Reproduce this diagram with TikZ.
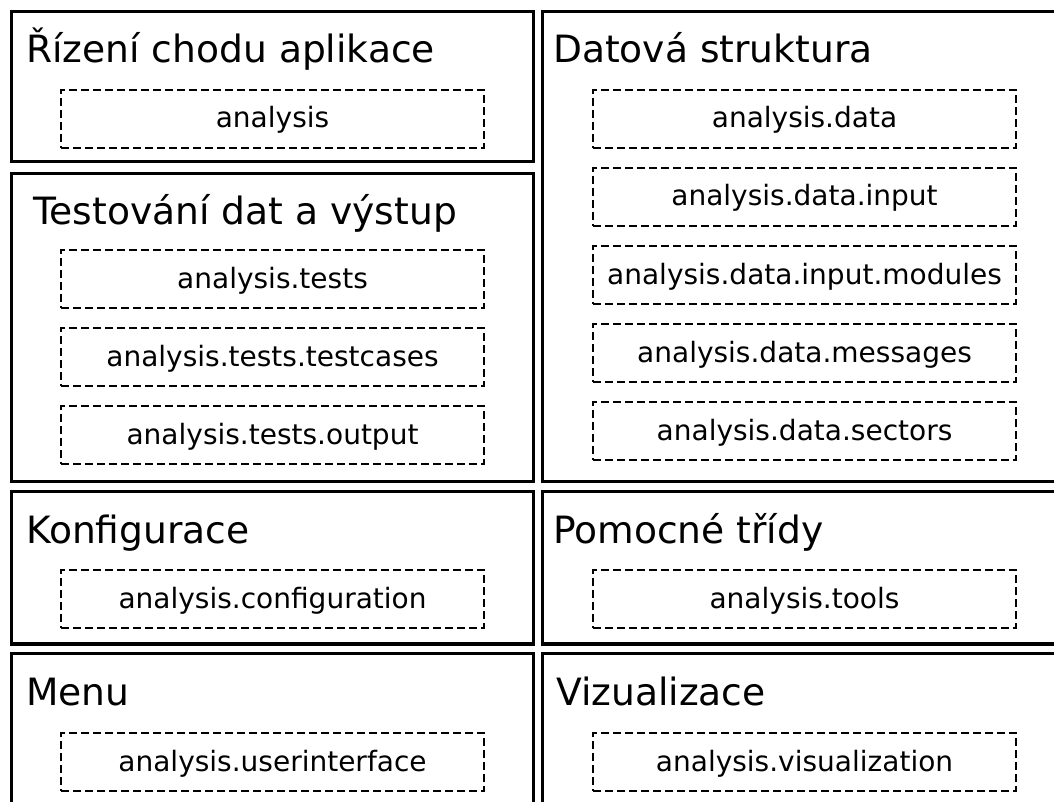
\documentclass[tikz,border=0pt]{standalone}
\usepackage{fontspec}
\setmainfont{DejaVu Sans}

\begin{document}
\begin{tikzpicture}[x=1pt, y=-1pt,
  grp/.style={draw, line width=3.4pt},
  ttl/.style={anchor=base west, inner sep=0pt, font=\fontsize{37.6}{44}\selectfont},
  pkg/.style={draw, line width=1.7pt, dash pattern=on 8pt off 4pt,
    minimum width=423pt, minimum height=58pt, inner sep=0pt,
    text height=21pt, text depth=3pt, font=\fontsize{28}{34}\selectfont}]
  \useasboundingbox (0,0) rectangle (1054,802);
  \clip (0,0) rectangle (1054,802);

  % left column
  \draw[grp] (11.5,11.5) rectangle (533.5,161.5);
  \node[ttl] (t-rizeni) at (26,63) {Řízení chodu aplikace};
  \node[pkg] (p-analysis) at (272.5,119) {analysis};

  \draw[grp] (11.5,173.5) rectangle (533.5,481.5);
  \node[ttl] (t-testy) at (33,225) {Testování dat a výstup};
  \node[pkg] (p-tests) at (272.5,279) {analysis.tests};
  \node[pkg] (p-testcases) at (272.5,357) {analysis.tests.testcases};
  \node[pkg] (p-output) at (272.5,435) {analysis.tests.output};

  \draw[grp] (11.5,491.5) rectangle (533.5,644);
  \node[ttl] (t-konfig) at (26,543) {Konfigurace};
  \node[pkg] (p-config) at (272.5,599) {analysis.configuration};

  \draw[grp] (11.5,653.5) rectangle (533.5,830);
  \node[ttl] (t-menu) at (26,705) {Menu};
  \node[pkg] (p-ui) at (272.5,762) {analysis.userinterface};

  % right column
  \draw[grp] (542.5,11.5) rectangle (1080,481.5);
  \node[ttl] (t-data) at (553,63) {Datová struktura};
  \node[pkg] (p-data) at (804.5,119) {analysis.data};
  \node[pkg] (p-input) at (804.5,197) {analysis.data.input};
  \node[pkg] (p-modules) at (804.5,275) {analysis.data.input.modules};
  \node[pkg] (p-messages) at (804.5,353) {analysis.data.messages};
  \node[pkg] (p-sectors) at (804.5,431) {analysis.data.sectors};

  \draw[grp] (542.5,491.5) rectangle (1080,644);
  \node[ttl] (t-pomocne) at (553,543) {Pomocné třídy};
  \node[pkg] (p-tools) at (804.5,599) {analysis.tools};

  \draw[grp] (542.5,653.5) rectangle (1080,830);
  \node[ttl] (t-vizual) at (556,705) {Vizualizace};
  \node[pkg] (p-vis) at (804.5,762) {analysis.visualization};
\end{tikzpicture}
\end{document}
